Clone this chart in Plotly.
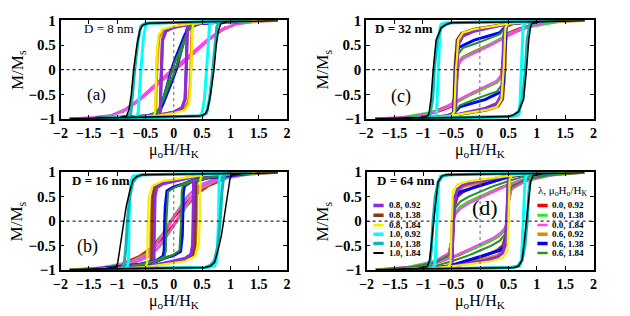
import plotly.graph_objects as go

# ---------------- data ----------------
SERIES = ["0.0, 0.92", "0.0, 1.38", "0.0, 1.84",
          "0.6, 0.92", "0.6, 1.38", "0.6, 1.84",
          "0.8, 0.92", "0.8, 1.38", "0.8, 1.84",
          "1.0, 0.92", "1.0, 1.38", "1.0, 1.84"]
COLORS = ["#ff0000", "#22ee22", "#ff40ff",
          "#e68a00", "#0000ff", "#248f24",
          "#8b2be2", "#8b3a0f", "#f2f200",
          "#00ffff", "#14b4b4", "#000000"]
WIDTHS = [3, 2.5, 2, 3, 3, 2, 3, 3, 2.2, 3, 3, 1.5]
DRAW_ORDER = [0, 1, 2, 3, 7, 4, 5, 6, 8, 9, 10, 11]

X_TICKS = [-2, -1.5, -1, -0.5, 0, 0.5, 1, 1.5, 2]
Y_TICKS = [-1, -0.5, 0, 0.5, 1]

# descending branches (H, M); ascending branch is the point-mirror
D8_DESC = [
    [(0.92, 0.86), (0.6, 0.6), (0.4, 0.4), (0.2, 0.21), (0.0, 0.02), (-0.2, -0.18), (-0.4, -0.39), (-0.6, -0.6), (-0.92, -0.86)],
    [(1.38, 0.97), (1.1, 0.93), (0.85, 0.82), (0.6, 0.6), (0.4, 0.4), (0.2, 0.2), (0.0, 0.02), (-0.2, -0.18), (-0.4, -0.4), (-0.6, -0.6), (-0.85, -0.8), (-1.1, -0.92), (-1.38, -0.97)],
    [(1.84, 0.99), (1.4, 0.97), (1.1, 0.93), (0.85, 0.82), (0.6, 0.62), (0.4, 0.42), (0.2, 0.22), (0.0, 0.03), (-0.2, -0.17), (-0.4, -0.38), (-0.6, -0.58), (-0.85, -0.8), (-1.1, -0.92), (-1.4, -0.96), (-1.84, -0.99)],
    [(0.92, 0.97), (0.6, 0.95), (0.3, 0.92), (0.0, 0.86), (-0.18, 0.8), (-0.26, 0.65), (-0.29, 0.3), (-0.3, 0.0), (-0.31, -0.6), (-0.32, -0.85), (-0.35, -0.92), (-0.6, -0.95), (-0.92, -0.97)],
    [(1.38, 0.98), (0.8, 0.96), (0.45, 0.93), (0.3, 0.87), (0.2, 0.72), (0.1, 0.45), (0.02, 0.2), (-0.04, 0.0), (-0.1, -0.25), (-0.17, -0.55), (-0.23, -0.8), (-0.3, -0.9), (-0.5, -0.95), (-1.38, -0.98)],
    [(1.84, 0.99), (1.0, 0.97), (0.5, 0.94), (0.32, 0.88), (0.24, 0.77), (0.12, 0.44), (0.0, 0.08), (-0.03, 0.0), (-0.1, -0.25), (-0.2, -0.62), (-0.25, -0.82), (-0.3, -0.9), (-0.5, -0.95), (-1.0, -0.97), (-1.84, -0.99)],
    [(0.92, 0.98), (0.6, 0.96), (0.3, 0.93), (0.0, 0.86), (-0.14, 0.78), (-0.2, 0.6), (-0.22, 0.0), (-0.23, -0.6), (-0.24, -0.85), (-0.27, -0.93), (-0.45, -0.96), (-0.92, -0.98)],
    [(1.38, 0.98), (0.7, 0.96), (0.3, 0.93), (0.0, 0.86), (-0.14, 0.78), (-0.2, 0.6), (-0.22, 0.0), (-0.23, -0.6), (-0.24, -0.85), (-0.27, -0.93), (-0.5, -0.96), (-1.38, -0.98)],
    [(1.84, 0.99), (0.8, 0.97), (0.33, 0.94), (0.0, 0.88), (-0.2, 0.82), (-0.27, 0.7), (-0.3, 0.3), (-0.31, 0.0), (-0.32, -0.6), (-0.33, -0.85), (-0.35, -0.93), (-0.6, -0.96), (-1.84, -0.99)],
    [(0.92, 0.99), (0.3, 0.97), (-0.45, 0.94), (-0.5, 0.88), (-0.54, 0.6), (-0.58, 0.0), (-0.61, -0.6), (-0.63, -0.88), (-0.66, -0.94), (-0.75, -0.97), (-0.92, -0.99)],
    [(1.38, 0.99), (0.4, 0.97), (-0.5, 0.94), (-0.58, 0.88), (-0.63, 0.6), (-0.69, 0.0), (-0.73, -0.6), (-0.76, -0.88), (-0.8, -0.94), (-0.95, -0.97), (-1.38, -0.99)],
    [(1.84, 0.99), (0.5, 0.97), (-0.45, 0.94), (-0.55, 0.9), (-0.6, 0.8), (-0.65, 0.5), (-0.71, 0.0), (-0.75, -0.5), (-0.79, -0.8), (-0.83, -0.93), (-0.95, -0.97), (-1.84, -0.99)],
]

D16_DESC = [
    [(0.92, 0.88), (0.6, 0.76), (0.4, 0.6), (0.2, 0.35), (0.0, 0.08), (-0.05, 0.0), (-0.2, -0.28), (-0.4, -0.56), (-0.6, -0.72), (-0.92, -0.88)],
    [(1.38, 0.97), (1.0, 0.93), (0.7, 0.85), (0.45, 0.72), (0.25, 0.52), (0.1, 0.28), (0.0, 0.1), (-0.06, 0.0), (-0.15, -0.18), (-0.3, -0.45), (-0.5, -0.68), (-0.8, -0.85), (-1.38, -0.97)],
    [(1.84, 0.99), (1.2, 0.96), (0.8, 0.9), (0.5, 0.76), (0.3, 0.58), (0.15, 0.35), (0.0, 0.1), (-0.05, 0.0), (-0.15, -0.2), (-0.3, -0.48), (-0.5, -0.7), (-0.8, -0.86), (-1.2, -0.94), (-1.84, -0.99)],
    [(0.92, 0.97), (0.6, 0.95), (0.4, 0.92), (0.1, 0.85), (-0.2, 0.78), (-0.34, 0.7), (-0.38, 0.5), (-0.4, 0.0), (-0.41, -0.85), (-0.44, -0.93), (-0.7, -0.96), (-0.92, -0.97)],
    [(1.38, 0.98), (0.9, 0.95), (0.5, 0.88), (0.3, 0.82), (0.17, 0.76), (0.0, 0.7), (-0.12, 0.62), (-0.15, 0.3), (-0.16, 0.0), (-0.17, -0.6), (-0.19, -0.72), (-0.3, -0.8), (-0.6, -0.88), (-1.38, -0.98)],
    [(1.84, 0.99), (1.0, 0.96), (0.6, 0.9), (0.3, 0.82), (0.16, 0.76), (0.0, 0.68), (-0.1, 0.6), (-0.12, 0.3), (-0.13, 0.0), (-0.14, -0.6), (-0.16, -0.72), (-0.3, -0.8), (-0.6, -0.88), (-1.0, -0.95), (-1.84, -0.99)],
    [(0.92, 0.98), (0.6, 0.95), (0.34, 0.9), (0.1, 0.84), (-0.2, 0.76), (-0.3, 0.68), (-0.33, 0.5), (-0.34, 0.0), (-0.35, -0.85), (-0.38, -0.92), (-0.6, -0.95), (-0.92, -0.98)],
    [(1.38, 0.99), (0.7, 0.97), (0.4, 0.92), (0.1, 0.85), (-0.2, 0.78), (-0.33, 0.7), (-0.37, 0.5), (-0.38, 0.0), (-0.39, -0.85), (-0.42, -0.93), (-0.7, -0.97), (-1.38, -0.99)],
    [(1.84, 0.99), (0.9, 0.97), (0.5, 0.94), (0.1, 0.88), (-0.2, 0.82), (-0.38, 0.72), (-0.44, 0.5), (-0.46, 0.0), (-0.47, -0.85), (-0.5, -0.94), (-0.8, -0.97), (-1.84, -0.99)],
    [(0.92, 0.99), (0.5, 0.97), (-0.6, 0.95), (-0.72, 0.92), (-0.76, 0.8), (-0.79, 0.0), (-0.8, -0.8), (-0.82, -0.93), (-0.86, -0.97), (-0.92, -0.99)],
    [(1.38, 0.99), (0.6, 0.97), (-0.55, 0.95), (-0.65, 0.9), (-0.72, 0.8), (-0.78, 0.5), (-0.82, 0.0), (-0.85, -0.6), (-0.88, -0.9), (-0.92, -0.96), (-1.38, -0.99)],
    [(1.84, 0.99), (1.0, 0.98), (0.3, 0.97), (-0.55, 0.95), (-0.65, 0.92), (-0.72, 0.85), (-0.78, 0.6), (-0.84, 0.3), (-0.88, 0.0), (-0.92, -0.3), (-0.95, -0.6), (-0.99, -0.85), (-1.02, -0.94), (-1.2, -0.97), (-1.84, -0.99)],
]

D32_DESC = [
    [(0.92, 0.9), (0.6, 0.76), (0.4, 0.64), (0.2, 0.52), (-0.1, 0.36), (-0.3, 0.25), (-0.38, 0.12), (-0.41, -0.2), (-0.44, -0.58), (-0.5, -0.74), (-0.7, -0.83), (-0.92, -0.9)],
    [(1.38, 0.97), (1.0, 0.92), (0.7, 0.82), (0.45, 0.68), (0.2, 0.52), (-0.1, 0.36), (-0.3, 0.25), (-0.38, 0.12), (-0.41, -0.2), (-0.44, -0.57), (-0.5, -0.73), (-0.8, -0.85), (-1.38, -0.97)],
    [(1.84, 0.99), (1.2, 0.95), (0.8, 0.86), (0.45, 0.66), (0.2, 0.5), (-0.1, 0.33), (-0.3, 0.22), (-0.38, 0.1), (-0.41, -0.2), (-0.44, -0.55), (-0.5, -0.72), (-0.8, -0.86), (-1.2, -0.95), (-1.84, -0.99)],
    [(0.92, 0.97), (0.6, 0.95), (0.5, 0.93), (0.2, 0.87), (-0.1, 0.81), (-0.3, 0.73), (-0.38, 0.6), (-0.42, 0.0), (-0.44, -0.85), (-0.48, -0.93), (-0.7, -0.96), (-0.92, -0.97)],
    [(1.38, 0.99), (0.9, 0.97), (0.55, 0.93), (0.45, 0.87), (0.35, 0.75), (-0.1, 0.6), (-0.37, 0.45), (-0.41, 0.3), (-0.42, 0.0), (-0.44, -0.6), (-0.46, -0.85), (-0.5, -0.93), (-0.7, -0.97), (-1.38, -0.99)],
    [(1.84, 0.99), (1.0, 0.97), (0.6, 0.93), (0.45, 0.86), (0.35, 0.72), (0.0, 0.56), (-0.3, 0.44), (-0.39, 0.3), (-0.41, 0.0), (-0.43, -0.6), (-0.45, -0.84), (-0.5, -0.92), (-0.8, -0.96), (-1.84, -0.99)],
    [(0.92, 0.99), (0.6, 0.96), (0.45, 0.92), (0.2, 0.85), (-0.1, 0.78), (-0.3, 0.68), (-0.38, 0.5), (-0.4, 0.0), (-0.42, -0.7), (-0.45, -0.88), (-0.6, -0.95), (-0.92, -0.99)],
    [(1.38, 0.99), (0.8, 0.97), (0.55, 0.94), (0.2, 0.88), (-0.1, 0.82), (-0.32, 0.74), (-0.4, 0.6), (-0.44, 0.0), (-0.46, -0.85), (-0.5, -0.93), (-0.8, -0.97), (-1.38, -0.99)],
    [(1.84, 0.99), (0.9, 0.97), (0.55, 0.94), (0.2, 0.88), (-0.1, 0.82), (-0.3, 0.75), (-0.38, 0.6), (-0.42, 0.0), (-0.45, -0.85), (-0.5, -0.94), (-0.8, -0.97), (-1.84, -0.99)],
    [(0.92, 0.99), (0.2, 0.97), (-0.6, 0.95), (-0.68, 0.92), (-0.7, 0.85), (-0.73, 0.0), (-0.76, -0.85), (-0.78, -0.93), (-0.85, -0.97), (-0.92, -0.99)],
    [(1.38, 0.99), (0.4, 0.97), (-0.5, 0.95), (-0.6, 0.92), (-0.68, 0.85), (-0.75, 0.6), (-0.8, 0.0), (-0.83, -0.6), (-0.86, -0.85), (-0.88, -0.93), (-1.0, -0.97), (-1.38, -0.99)],
    [(1.84, 0.99), (0.3, 0.97), (-0.5, 0.95), (-0.58, 0.92), (-0.68, 0.85), (-0.77, 0.6), (-0.8, 0.3), (-0.82, 0.0), (-0.84, -0.3), (-0.86, -0.6), (-0.89, -0.85), (-0.91, -0.93), (-1.05, -0.97), (-1.84, -0.99)],
]

D64_DESC = [
    [(0.92, 0.9), (0.6, 0.78), (0.4, 0.7), (0.2, 0.6), (0.0, 0.5), (-0.2, 0.39), (-0.35, 0.28), (-0.45, 0.14), (-0.48, 0.0), (-0.5, -0.4), (-0.55, -0.68), (-0.7, -0.78), (-0.92, -0.9)],
    [(1.38, 0.97), (1.0, 0.91), (0.7, 0.83), (0.4, 0.7), (0.2, 0.6), (0.0, 0.5), (-0.2, 0.39), (-0.35, 0.28), (-0.45, 0.14), (-0.48, 0.0), (-0.5, -0.4), (-0.55, -0.66), (-0.8, -0.82), (-1.38, -0.97)],
    [(1.84, 0.99), (1.2, 0.95), (0.8, 0.87), (0.5, 0.74), (0.2, 0.58), (0.0, 0.47), (-0.2, 0.36), (-0.35, 0.25), (-0.45, 0.12), (-0.48, 0.0), (-0.5, -0.4), (-0.55, -0.65), (-0.8, -0.82), (-1.2, -0.93), (-1.84, -0.99)],
    [(0.92, 0.98), (0.6, 0.95), (0.5, 0.92), (0.2, 0.84), (-0.1, 0.77), (-0.3, 0.7), (-0.42, 0.6), (-0.47, 0.3), (-0.49, 0.0), (-0.51, -0.85), (-0.55, -0.92), (-0.7, -0.96), (-0.92, -0.98)],
    [(1.38, 0.99), (0.8, 0.97), (0.55, 0.92), (0.2, 0.8), (-0.1, 0.7), (-0.35, 0.6), (-0.45, 0.5), (-0.48, 0.0), (-0.5, -0.85), (-0.55, -0.92), (-0.8, -0.96), (-1.38, -0.99)],
    [(1.84, 0.99), (1.2, 0.97), (0.8, 0.92), (0.5, 0.82), (0.2, 0.7), (0.0, 0.6), (-0.2, 0.5), (-0.35, 0.4), (-0.45, 0.25), (-0.48, 0.0), (-0.5, -0.5), (-0.55, -0.7), (-0.8, -0.85), (-1.2, -0.94), (-1.84, -0.99)],
    [(0.92, 0.99), (0.65, 0.96), (0.5, 0.93), (0.2, 0.86), (-0.1, 0.8), (-0.3, 0.74), (-0.4, 0.65), (-0.45, 0.4), (-0.47, 0.0), (-0.5, -0.85), (-0.55, -0.93), (-0.7, -0.96), (-0.92, -0.99)],
    [(1.38, 0.99), (0.8, 0.97), (0.55, 0.93), (0.2, 0.8), (-0.1, 0.7), (-0.3, 0.6), (-0.4, 0.5), (-0.45, 0.3), (-0.47, 0.0), (-0.5, -0.85), (-0.55, -0.92), (-0.8, -0.96), (-1.38, -0.99)],
    [(1.84, 0.99), (0.9, 0.97), (0.6, 0.94), (0.2, 0.88), (-0.2, 0.82), (-0.4, 0.75), (-0.48, 0.6), (-0.5, 0.0), (-0.52, -0.85), (-0.56, -0.93), (-0.9, -0.97), (-1.84, -0.99)],
    [(0.92, 0.99), (0.2, 0.97), (-0.6, 0.95), (-0.7, 0.92), (-0.73, 0.8), (-0.76, 0.0), (-0.79, -0.8), (-0.81, -0.93), (-0.86, -0.97), (-0.92, -0.99)],
    [(1.38, 0.99), (0.4, 0.97), (-0.55, 0.95), (-0.66, 0.92), (-0.74, 0.8), (-0.79, 0.5), (-0.83, 0.0), (-0.86, -0.6), (-0.89, -0.88), (-0.92, -0.95), (-1.05, -0.97), (-1.38, -0.99)],
    [(1.84, 0.99), (0.0, 0.97), (-0.6, 0.95), (-0.68, 0.92), (-0.74, 0.8), (-0.78, 0.4), (-0.82, 0.0), (-0.85, -0.4), (-0.89, -0.8), (-0.93, -0.93), (-1.1, -0.97), (-1.84, -0.99)],
]

PANEL_DATA = [D8_DESC, D16_DESC, D32_DESC, D64_DESC]
PANEL_SIZE = ["D = 8 nm", "D = 16 nm", "D = 32 nm", "D = 64 nm"]
PANEL_TAG = ["(a)", "(b)", "(c)", "(d)"]

# ---------------- layout constants ----------------
W, H = 630, 316
FONT = "Liberation Serif"
# axis suffix, x domain (px), y domain (px from top)
PANELS = [
    ("", (54.5, 285), (13, 117)),      # a
    ("2", (54.5, 285), (173, 276)),    # b
    ("3", (365.5, 597), (13, 117)),    # c
    ("4", (366, 597), (173, 276)),     # d
]
SIZE_POS = [(-1.15, 0.83, False), (-1.28, 0.83, True), (-1.33, 0.83, True), (-1.31, 0.84, True)]
TAG_POS = [(-1.37, -0.5, 17), (-1.52, -0.51, 18), (-1.39, -0.54, 18), (0.08, 0.28, 22)]

fig = go.Figure()
layout = dict(width=W, height=H, margin=dict(l=0, r=0, t=0, b=0),
              paper_bgcolor="white", plot_bgcolor="white", showlegend=False,
              font=dict(family=FONT, color="black"))
shapes, annotations = [], []

for p, (sfx, (x0, x1), (yt, yb)) in enumerate(PANELS):
    xa, ya = "x" + sfx, "y" + sfx
    for i in DRAW_ORDER:
        desc = PANEL_DATA[p][i]
        hx = [h for h, m in desc] + [-h for h, m in desc]
        my = [m for h, m in desc] + [-m for h, m in desc]
        fig.add_trace(go.Scatter(x=hx, y=my, mode="lines", xaxis=xa, yaxis=ya,
                                 name=SERIES[i], line=dict(color=COLORS[i], width=WIDTHS[i]),
                                 hoverinfo="skip"))
    axcommon = dict(showline=True, linecolor="black", linewidth=1.5, mirror="ticks",
                    ticks="inside", ticklen=4, tickwidth=1, tickcolor="black",
                    showgrid=False, zeroline=False)
    layout["xaxis" + sfx] = dict(domain=[x0 / W, x1 / W], range=[-2, 2], anchor=ya,
                                 tickvals=X_TICKS, ticklabelstandoff=0,
                                 tickfont=dict(family=FONT, size=14, weight="bold", color="black"),
                                 **axcommon)
    layout["yaxis" + sfx] = dict(domain=[1 - yb / H, 1 - yt / H], range=[-1, 1], anchor=xa,
                                 tickvals=Y_TICKS,
                                 tickfont=dict(family=FONT, size=15, weight="bold", color="black"),
                                 **axcommon)
    # dotted zero lines
    shapes.append(dict(type="line", xref=xa, yref=ya, x0=-2, x1=2, y0=0, y1=0,
                       line=dict(color="black", width=1, dash="dot"), layer="above"))
    shapes.append(dict(type="line", xref=xa, yref=ya, x0=0, x1=0, y0=-1, y1=1,
                       line=dict(color="#666666", width=1, dash="dot"), layer="above"))
    sx, sy, sb = SIZE_POS[p]
    annotations.append(dict(xref=xa, yref=ya, x=sx, y=sy, text=PANEL_SIZE[p], showarrow=False,
                            font=dict(family=FONT, size=13, weight="bold" if sb else "normal")))
    tx, ty, ts = TAG_POS[p]
    annotations.append(dict(xref=xa, yref=ya, x=tx, y=ty, text=PANEL_TAG[p], showarrow=False,
                            font=dict(family=FONT, size=ts)))
    # axis titles
    annotations.append(dict(xref="paper", yref="paper", x=(x0 + x1) / 2 / W, y=1 - (yb + 33) / H,
                            text="μ<sub>o</sub>H/H<sub>K</sub>", showarrow=False,
                            xanchor="center", yanchor="middle", font=dict(family=FONT, size=16)))
    annotations.append(dict(xref="paper", yref="paper", x=(x0 - 43) / W, y=1 - (yt + yb) / 2 / H,
                            text="M/M<sub>s</sub>", showarrow=False, textangle=-90,
                            xanchor="center", yanchor="middle", font=dict(family=FONT, size=17)))

# legend drawn inside panel (d), two columns
LEG_ROWS = [0.32, 0.12, -0.08, -0.27, -0.46, -0.65]
LEG_COLS = [(-1.88, -1.70, -1.64, [6, 7, 8, 9, 10, 11]), (1.01, 1.19, 1.24, [0, 1, 2, 3, 4, 5])]
for lx0, lx1, ltx, idxs in LEG_COLS:
    for row, i in zip(LEG_ROWS, idxs):
        shapes.append(dict(type="line", xref="x4", yref="y4", x0=lx0, x1=lx1, y0=row, y1=row,
                           line=dict(color=COLORS[i], width=WIDTHS[i] + 0.5), layer="above"))
        annotations.append(dict(xref="x4", yref="y4", x=ltx, y=row, text=SERIES[i],
                                showarrow=False, xanchor="left", yanchor="middle",
                                font=dict(family=FONT, size=9, weight="bold")))
annotations.append(dict(xref="x4", yref="y4", x=1.45, y=0.62,
                        text="λ, μ<sub>o</sub>H<sub>o</sub>/H<sub>K</sub>", showarrow=False,
                        xanchor="center", yanchor="middle", font=dict(family=FONT, size=11)))

layout["shapes"] = shapes
layout["annotations"] = annotations
fig.update_layout(**layout)
fig.write_html("out.html", config={"displayModeBar": False},
               post_script="document.body.style.margin='0px';")
